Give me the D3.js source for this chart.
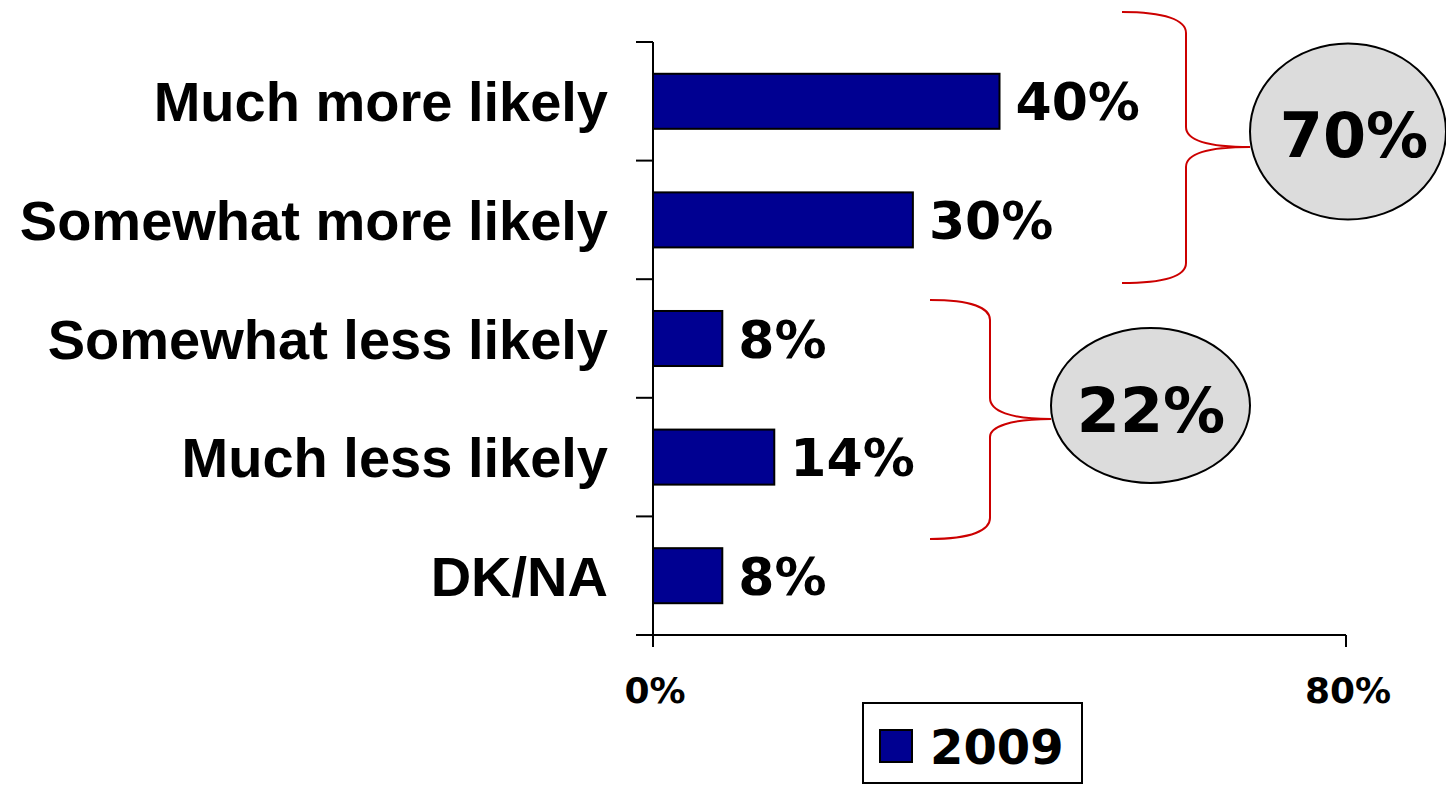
<!DOCTYPE html>
<html>
<head>
<meta charset="utf-8">
<script src="https://cdn.jsdelivr.net/npm/d3@7"></script>
<style>
  html, body { margin: 0; padding: 0; background: #ffffff; }
  svg { display: block; }
</style>
</head>
<body>
<svg id="chart" width="1446" height="785"></svg>
<script>
// ---- data ----
const categories = ["Much more likely", "Somewhat more likely", "Somewhat less likely", "Much less likely", "DK/NA"];
const values2009 = [40, 30, 8, 14, 8];
const seriesName = "2009";
const xTickValues = [0, 80];
const groupLabels = ["70%", "22%"];

// ---- layout ----
const W = 1446, H = 785;
const svg = d3.select("#chart");
const barColor = "#000091";
const braceColor = "#cc0000";
const labelFont = "'Liberation Sans', Arial, sans-serif";
const numFont = "'DejaVu Sans', Verdana, sans-serif";

const x = d3.scaleLinear().domain([0, 80]).range([653, 1346]);
const y = d3.scaleBand().domain(categories).range([42, 635])
  .paddingInner(0.536).paddingOuter(0.268);

// bars
svg.append("g").selectAll("rect")
  .data(categories.map((c, i) => ({ c, v: values2009[i] })))
  .join("rect")
  .attr("x", x(0))
  .attr("y", d => y(d.c))
  .attr("width", d => x(d.v) - x(0))
  .attr("height", y.bandwidth())
  .attr("fill", barColor)
  .attr("stroke", "#000")
  .attr("stroke-width", 2);

// value labels
svg.append("g").selectAll("text")
  .data(categories.map((c, i) => ({ c, v: values2009[i] })))
  .join("text")
  .attr("x", d => x(d.v) + 16)
  .attr("y", d => y(d.c) + y.bandwidth() / 2 + 19)
  .attr("font-family", numFont)
  .attr("font-weight", "bold")
  .attr("font-size", 52)
  .attr("fill", "#000")
  .text(d => d.v + "%");

// y axis: line + ticks at band boundaries
const step = y.step();
const yStart = y.range()[0];
const boundaries = d3.range(categories.length + 1).map(i => yStart + i * step);
const axisG = svg.append("g").attr("stroke", "#000").attr("stroke-width", 2);
axisG.append("line").attr("x1", x(0)).attr("x2", x(0)).attr("y1", yStart).attr("y2", 647);
axisG.selectAll("line.yt").data(boundaries).join("line").attr("class", "yt")
  .attr("x1", x(0) - 17).attr("x2", x(0)).attr("y1", d => d).attr("y2", d => d);
// x axis
const yBase = boundaries[boundaries.length - 1];
axisG.append("line").attr("x1", x(0)).attr("x2", x(80)).attr("y1", yBase).attr("y2", yBase);
axisG.selectAll("line.xt").data(xTickValues).join("line").attr("class", "xt")
  .attr("x1", d => x(d)).attr("x2", d => x(d)).attr("y1", yBase).attr("y2", yBase + 12);

// x tick labels
svg.append("g").selectAll("text").data(xTickValues).join("text")
  .attr("x", d => x(d) + 2)
  .attr("y", 703)
  .attr("text-anchor", "middle")
  .attr("font-family", numFont)
  .attr("font-weight", "bold")
  .attr("font-size", 36)
  .text(d => d + "%");

// category labels
svg.append("g").selectAll("text").data(categories).join("text")
  .attr("x", 608)
  .attr("y", d => y(d) + y.bandwidth() / 2 + 20)
  .attr("text-anchor", "end")
  .attr("font-family", labelFont)
  .attr("font-weight", "bold")
  .attr("font-size", 56)
  .text(d => d);

// braces
const braces = [
  "M1122,12 C1165,12 1186,20 1186,33 L1186,127 C1186,140 1205,147 1250,147 C1205,147 1186,154 1186,167 L1186,263 C1186,276 1165,283 1122,283",
  "M930,300 C972,300 990,308 990,320 L990,398 C990,411 1010,419 1051,419 C1010,419 990,427 990,437 L990,518 C990,530 972,539 930,539"
];
svg.append("g").selectAll("path").data(braces).join("path")
  .attr("d", d => d)
  .attr("fill", "none")
  .attr("stroke", braceColor)
  .attr("stroke-width", 2);

// group ellipses
const ellipses = [
  { cx: 1348, cy: 131.5, rx: 98, ry: 88, tx: 1354, ty: 157 },
  { cx: 1150.5, cy: 405.5, rx: 99.5, ry: 77.5, tx: 1151, ty: 432 }
];
const eg = svg.append("g").selectAll("g").data(ellipses).join("g");
eg.append("ellipse")
  .attr("cx", d => d.cx).attr("cy", d => d.cy)
  .attr("rx", d => d.rx).attr("ry", d => d.ry)
  .attr("fill", "#dcdcdc").attr("stroke", "#000").attr("stroke-width", 2);
eg.append("text")
  .attr("x", d => d.tx).attr("y", d => d.ty)
  .attr("text-anchor", "middle")
  .attr("font-family", numFont)
  .attr("font-weight", "bold")
  .attr("font-size", 62)
  .text((d, i) => groupLabels[i]);

// legend
const lg = svg.append("g");
lg.append("rect").attr("x", 863).attr("y", 703).attr("width", 219).attr("height", 80)
  .attr("fill", "#fff").attr("stroke", "#000").attr("stroke-width", 2);
lg.append("rect").attr("x", 880).attr("y", 730).attr("width", 32).attr("height", 32)
  .attr("fill", barColor).attr("stroke", "#000").attr("stroke-width", 2);
lg.append("text").attr("x", 930).attr("y", 764)
  .attr("font-family", numFont).attr("font-weight", "bold").attr("font-size", 48)
  .text(seriesName);
</script>
</body>
</html>
